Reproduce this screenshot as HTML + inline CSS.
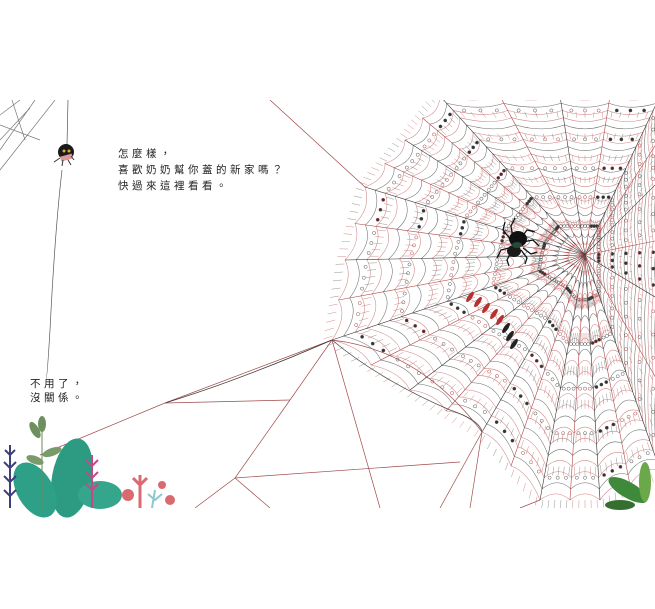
<!DOCTYPE html>
<html><head><meta charset="utf-8"><style>
html,body{margin:0;padding:0;background:#fff;width:655px;height:609px;overflow:hidden}
.t{position:absolute;font-family:"Liberation Sans","Noto Sans CJK TC",sans-serif;font-size:10.5px;color:#222;line-height:16px;letter-spacing:3.5px;white-space:nowrap}
svg{position:absolute;left:0;top:0}
</style></head><body>
<svg id="s" width="655" height="609" viewBox="0 0 655 609">
<defs><clipPath id="c"><rect x="0" y="100" width="655" height="408"/></clipPath></defs>
<g id="g" clip-path="url(#c)" fill="none" stroke-width="0.7">
<g stroke="#777"><line x1="0" y1="115" x2="20" y2="100"/><line x1="0" y1="170" x2="55" y2="100"/><line x1="0" y1="150" x2="35" y2="100"/><line x1="0" y1="125" x2="40" y2="140"/><line x1="12" y1="100" x2="25" y2="140"/><line x1="0" y1="140" x2="30" y2="108"/></g>
<path d="M68 100 L67 145 M62 170 Q55 230 50 330 Q47 380 46 380" stroke="#555"/>
<g stroke="#a14a4a">
<path d="M332 340 L165 403 L40 455"/><path d="M332 340 Q240 380 165 403" stroke="#333"/>
<path d="M165 403 L290 400"/><path d="M332 340 L290 400 L235 478 L195 508"/>
<path d="M332 340 L380 508"/><path d="M235 478 Q350 470 460 462"/>
<path d="M365 187 L270 100"/>
<path d="M235 478 L270 508"/><path d="M540 500 L520 508"/>
<path d="M332 340 Q420 350 482 432"/><path d="M482 432 L440 508"/><path d="M482 432 L470 508"/>
<path d="M332 340 Q380 380 450 410 Q480 420 482 432" stroke="#444"/>
</g>
</g>
<g transform="translate(517,244)">
<g stroke="#111" stroke-width="1.3" fill="none">
<path d="M-6 -4 L-14 -14 L-12 -22"/><path d="M-4 -6 L-6 -18 L-2 -26"/><path d="M4 -6 L10 -14 L18 -12"/><path d="M6 -2 L16 -4 L22 2"/>
<path d="M-8 4 L-16 6 L-20 14"/><path d="M-6 8 L-10 16 L-8 22"/><path d="M4 6 L10 14 L8 20"/><path d="M6 4 L14 10 L20 8"/>
</g>
<ellipse cx="1" cy="-5" rx="9" ry="8" fill="#111"/><ellipse cx="-3" cy="7" rx="7" ry="6" fill="#1a1a1a"/><ellipse cx="0" cy="1" rx="5" ry="3" fill="#264a3a"/>
</g>
<g transform="translate(66,152)">
<circle cx="0" cy="0" r="8" fill="#1a1a1a"/><rect x="-7" y="3" width="12" height="5" fill="#d99" transform="rotate(-15)"/>
<circle cx="-2" cy="-1" r="1.5" fill="#d9b030"/><circle cx="3" cy="-1" r="1.5" fill="#d9b030"/>
<path d="M-6 6 L-12 10 M-3 8 L-4 14 M2 8 L5 13 M5 4 L8 8" stroke="#333" stroke-width="1"/>
</g>
<g>
<ellipse cx="72" cy="478" rx="20" ry="40" fill="#2d9a82" transform="rotate(10 72 478)"/>
<ellipse cx="35" cy="490" rx="18" ry="30" fill="#2fa088" transform="rotate(-30 35 490)"/>
<ellipse cx="100" cy="495" rx="22" ry="14" fill="#35a58c"/>
<path d="M42 510 L42 420" stroke="#6a8a60" stroke-width="1"/>
<ellipse cx="35" cy="430" rx="4" ry="9" fill="#6e8f5e" transform="rotate(-30 35 430)"/>
<ellipse cx="42" cy="424" rx="4" ry="8" fill="#6e8f5e"/>
<ellipse cx="52" cy="452" rx="10" ry="4" fill="#7a9a6a" transform="rotate(-20 52 452)"/>
<ellipse cx="35" cy="460" rx="9" ry="4" fill="#7a9a6a" transform="rotate(20 35 460)"/>
<path d="M10 508 L10 445 M5 450 L10 455 L15 450 M4 462 L10 468 L16 462 M4 476 L10 482 L16 476 M4 490 L10 496 L16 490" stroke="#3d3f7a" stroke-width="2" fill="none"/>
<path d="M92 508 L92 455 M86 460 L92 466 L98 460 M86 472 L92 478 L98 472 M86 484 L92 490 L98 484" stroke="#c04a8a" stroke-width="2" fill="none"/>
<path d="M140 508 L140 475 M133 478 L140 485 M147 478 L140 485" stroke="#d96a70" stroke-width="3" fill="none"/>
<circle cx="128" cy="495" r="6" fill="#d96a70"/><circle cx="162" cy="485" r="4" fill="#d96a70"/><circle cx="170" cy="500" r="5" fill="#d96a70"/>
<path d="M152 508 L155 490 M148 494 L155 500 L162 494" stroke="#8cc8d0" stroke-width="2" fill="none"/>
<ellipse cx="628" cy="490" rx="22" ry="8" fill="#3f8a3a" transform="rotate(30 628 490)"/>
<ellipse cx="645" cy="482" rx="6" ry="20" fill="#6aa84a"/>
<ellipse cx="620" cy="505" rx="15" ry="5" fill="#356f30"/>
</g>
</svg>
<div class="t" style="left:118px;top:146px">怎麼樣，<br>喜歡奶奶幫你蓋的新家嗎？<br>快過來這裡看看。</div>
<div class="t" style="left:30px;top:377px;line-height:14px">不用了，<br>沒關係。</div>
<script>
(function(){
var g=document.getElementById('g'),ns='http://www.w3.org/2000/svg';
var H=[585,255];
var B=[[440,96],[405,140],[365,187],[345,260],[332,340],[410,390],[482,432],[540,500],[600,500],[660,470],[660,300],[660,180],[660,96],[560,96]];
var P=[];for(var i=0;i<B.length;i++){var a=B[i],b=B[(i+1)%B.length];for(var k=0;k<2;k++){var t=k/2;P.push([a[0]+(b[0]-a[0])*t,a[1]+(b[1]-a[1])*t]);}}
function el(n,at){var e=document.createElementNS(ns,n);for(var k in at)e.setAttribute(k,at[k]);g.insertBefore(e,g.firstChild);return e;}
for(var i=0;i<P.length;i++){el('line',{x1:H[0],y1:H[1],x2:P[i][0],y2:P[i][1],stroke:i%2?'#b04848':'#333','stroke-width':0.6});}
var N=22;
for(var r=2;r<=N;r++){var t=r/N,d='';
 for(var i=0;i<=P.length;i++){var p=P[i%P.length],x=H[0]+(p[0]-H[0])*t,y=H[1]+(p[1]-H[1])*t;
  if(i==0)d='M'+x+' '+y;else{var q=P[(i-1)%P.length],mx=H[0]+((q[0]+p[0])/2-H[0])*(t-0.05),my=H[1]+((q[1]+p[1])/2-H[1])*(t-0.05);d+=' Q'+mx+' '+my+' '+x+' '+y;}}
 el('path',{d:d,stroke:r%3==0?'#555':'#c87070','stroke-width':0.55,opacity:0.85});
 if(r%4==0){for(var i=0;i<P.length;i++){var p=P[i],q=P[(i+1)%P.length];
   for(var s=0.2;s<1;s+=0.3){var x=H[0]+(p[0]+(q[0]-p[0])*s-H[0])*t,y=H[1]+(p[1]+(q[1]-p[1])*s-H[1])*t;
   el('circle',{cx:x,cy:y,r:1.6,stroke:(i+r)%3?'#555':'#b04848','stroke-width':0.5,fill:(i+r)%4==0?'#333':'none'});}}}
 if(r%3==1&&r>3){for(var i=0;i<P.length;i++){var p=P[i],q=P[(i+1)%P.length];
   for(var s=0.1;s<1;s+=0.2){var x1=H[0]+(p[0]+(q[0]-p[0])*s-H[0])*t,y1=H[1]+(p[1]+(q[1]-p[1])*s-H[1])*t,t2=(r+0.8)/N,
   x2=H[0]+(p[0]+(q[0]-p[0])*s-H[0])*t2,y2=H[1]+(p[1]+(q[1]-p[1])*s-H[1])*t2;
   el('line',{x1:x1,y1:y1,x2:x2,y2:y2,stroke:i%2?'#c87070':'#777','stroke-width':0.4});}}}
}
var bx=[[470,297],[478,302],[486,308],[494,314],[500,320],[506,328],[510,336],[514,344]];
bx.forEach(function(b,i){var e=document.createElementNS(ns,'ellipse');e.setAttribute('cx',b[0]);e.setAttribute('cy',b[1]);e.setAttribute('rx',6);e.setAttribute('ry',2.2);e.setAttribute('fill',i>4?'#222':'#b83030');e.setAttribute('transform','rotate(-55 '+b[0]+' '+b[1]+')');g.appendChild(e);});
})();
</script>
</body></html>
